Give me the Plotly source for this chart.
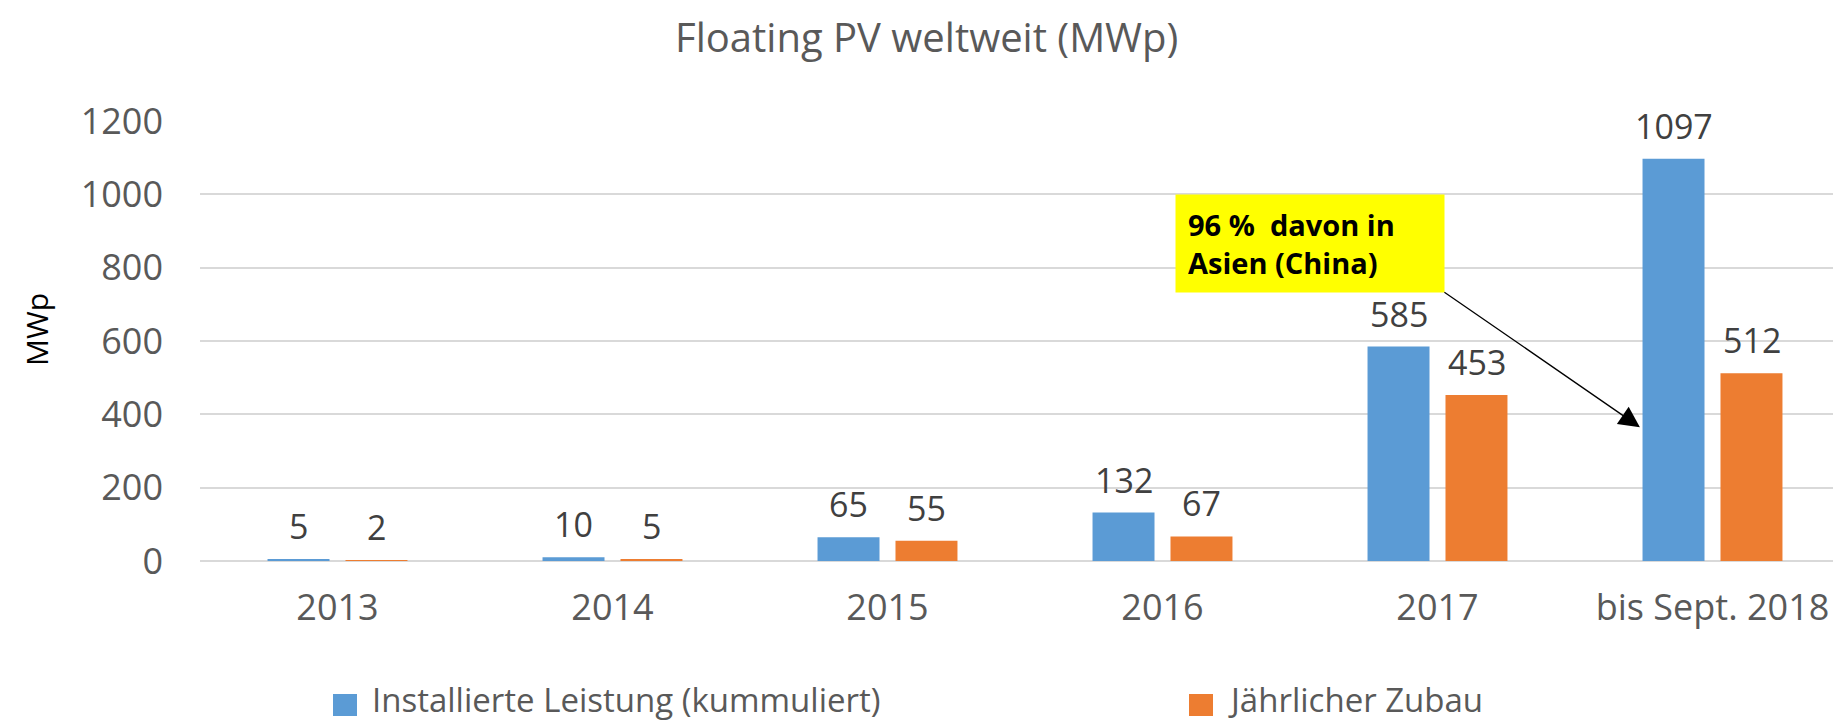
import plotly.graph_objects as go

# ---------------- data ----------------
categories = ["2013", "2014", "2015", "2016", "2017", "bis Sept. 2018"]
installed_cumulative = [5, 10, 65, 132, 585, 1097]
annual_addition = [2, 5, 55, 67, 453, 512]
series_names = ["Installierte Leistung (kummuliert)", "Jährlicher Zubau"]
y_tick_values = [0, 200, 400, 600, 800, 1000, 1200]
chart_title = "Floating PV weltweit (MWp)"
y_title = "MWp"
callout_text = "<b>96\u00a0%\u00a0\u00a0davon in<br>Asien (China)</b>"

# ---------------- style ----------------
BLUE = "#5B9BD5"
ORANGE = "#ED7D31"
FONT = "Open Sans"
GREY = "#595959"
LABEL = "#404040"
GRID = "#D9D9D9"

OFF = 8  # default page body margin
W, H = 1841 - OFF, 725 - OFF
ML, MR, MT, MB = 192, 0, 113, 164
PW = W - ML - MR
PH = H - MT - MB


def px_x(px):  # page pixel -> paper x
    return (px - OFF - ML) / PW


def px_y(py):  # page pixel -> paper y
    return (H - MB - (py - OFF)) / PH


fig = go.Figure()
fig.add_bar(x=categories, y=installed_cumulative, name=series_names[0],
            marker=dict(color=BLUE, line=dict(width=0)), showlegend=False)
fig.add_bar(x=categories, y=annual_addition, name=series_names[1],
            marker=dict(color=ORANGE, line=dict(width=0)), showlegend=False)

annotations = []
# chart title
annotations.append(dict(
    x=px_x(926.5), y=px_y(36), xref="paper", yref="paper", text=chart_title,
    showarrow=False, xanchor="center", yanchor="middle",
    font=dict(family=FONT, size=40, color=GREY)))

# data labels (category index positions)
for vals, shift in ((installed_cumulative, -39), (annual_addition, 39)):
    for i, v in enumerate(vals):
        annotations.append(dict(
            x=i, y=v, xref="x", yref="y", text=str(v), showarrow=False,
            xshift=shift, yshift=8, xanchor="center", yanchor="bottom",
            font=dict(family=FONT, size=34, color=LABEL)))

# callout box
annotations.append(dict(
    x=3.045, y=1000, xref="x", yref="y", xanchor="left", yanchor="top",
    text=callout_text, showarrow=False, bgcolor="#FFFF00",
    borderpad=12, width=244, height=73, align="left",
    font=dict(family=FONT, size=29, color="#000000")))
# callout arrow
annotations.append(dict(
    x=4.736, y=365, xref="x", yref="y", text="", showarrow=True,
    ax=-197, ay=-136, axref="pixel", ayref="pixel",
    arrowhead=2, arrowsize=3.2, arrowwidth=1.3, arrowcolor="#000000",
    standoff=0))

# y-axis title
annotations.append(dict(
    x=px_x(36), y=px_y(330), xref="paper", yref="paper", text=y_title,
    textangle=-90, showarrow=False, xanchor="center", yanchor="middle",
    font=dict(family=FONT, size=30, color="#000000")))

# manual legend
shapes = []
legend_items = [(series_names[0], BLUE, 333), (series_names[1], ORANGE, 1189)]
for name, color, x0 in legend_items:
    shapes.append(dict(type="rect", xref="paper", yref="paper",
                       x0=px_x(x0), x1=px_x(x0 + 24),
                       y0=px_y(716), y1=px_y(694),
                       fillcolor=color, line=dict(width=0)))
    annotations.append(dict(
        x=px_x(x0 + 37), y=px_y(724), xref="paper", yref="paper",
        xanchor="left", yanchor="bottom", text=name, showarrow=False,
        font=dict(family=FONT, size=33, color=GREY)))

fig.update_layout(
    width=W, height=H,
    margin=dict(l=ML, r=MR, t=MT, b=MB, pad=0),
    paper_bgcolor="white", plot_bgcolor="white",
    barmode="group", bargap=0.433, bargroupgap=0.205,
    showlegend=False,
    annotations=annotations,
    shapes=shapes,
    xaxis=dict(type="category", categoryorder="array", categoryarray=categories,
               range=[-0.5, -0.5 + PW / 275.0], showgrid=False, showline=False,
               zeroline=False, ticks="", automargin=False, ticklabelstandoff=22,
               tickfont=dict(family=FONT, size=36, color=GREY)),
    yaxis=dict(range=[0, 1200], tickvals=y_tick_values, showgrid=True,
               gridcolor=GRID, gridwidth=1.5, zeroline=True, zerolinecolor=GRID,
               zerolinewidth=1.5, showline=False, ticks="", automargin=False,
               ticklabelstandoff=36,
               tickfont=dict(family=FONT, size=36, color=GREY)),
)

fig.write_html("out.html")
